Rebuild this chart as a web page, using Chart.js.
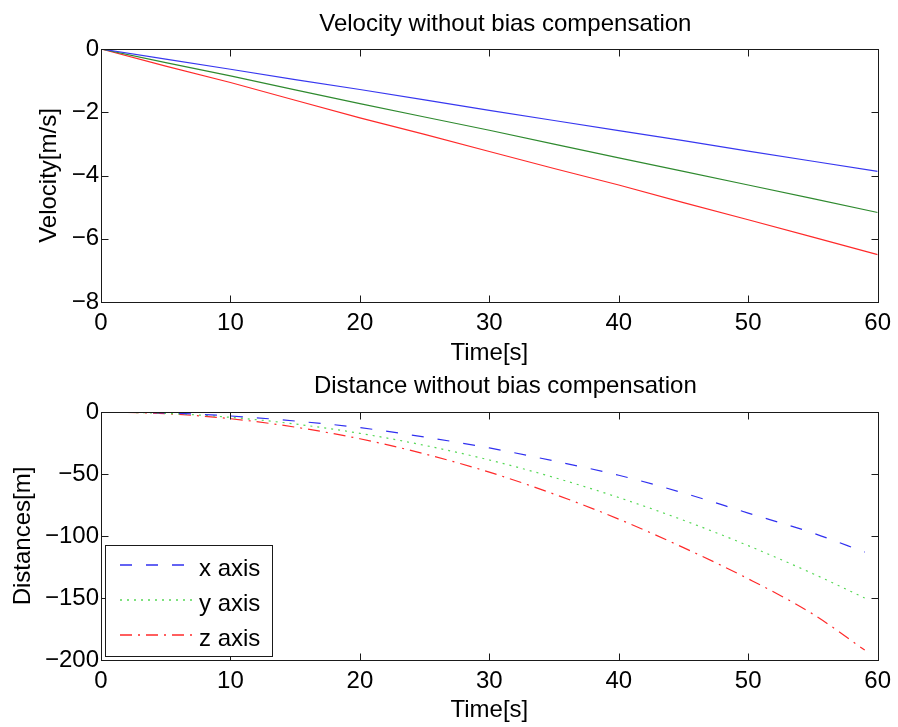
<!DOCTYPE html>
<html>
<head>
<meta charset="utf-8">
<title>Velocity and distance without bias compensation</title>
<script src="https://cdn.jsdelivr.net/npm/chart.js@4.4.1/dist/chart.umd.min.js"></script>
<style>
  body { margin: 0; background: #fff; }
  .panel { position: absolute; left: 0; }
  #top { top: 0; }
  #bottom { top: 365px; }
</style>
</head>
<body>
<div class="panel" id="top"><canvas id="velocityChart" width="898" height="365"></canvas></div>
<div class="panel" id="bottom"><canvas id="distanceChart" width="898" height="362"></canvas></div>
<script>
// velocity
const velTime = [0, 5, 10, 15, 20, 25, 30, 35, 40, 45, 50, 55, 60];
const velX = [0, -0.32, -0.64, -0.97, -1.28, -1.61, -1.94, -2.26, -2.58, -2.90, -3.23, -3.55, -3.87];
const velY = [0, -0.43, -0.85, -1.29, -1.73, -2.15, -2.57, -3.01, -3.44, -3.87, -4.30, -4.73, -5.17];
const velZ = [0, -0.54, -1.06, -1.62, -2.18, -2.70, -3.24, -3.78, -4.30, -4.86, -5.40, -5.95, -6.50];

// distance
const distTime = [0, 5, 10, 15, 20, 25, 30, 35, 40, 45, 50, 55, 59];
const distX = [0, -0.8, -3.2, -7.3, -12.6, -20.2, -29.0, -39.5, -51.0, -65.3, -81.5, -97.6, -113];
const distY = [0, -1.1, -4.3, -9.7, -17.2, -26.9, -38.7, -52.8, -69.0, -87.3, -107.8, -130.4, -150];
const distZ = [0, -1.35, -5.4, -12.2, -21.6, -33.8, -48.5, -66.2, -86.4, -109.4, -134.5, -163.0, -192];

const seriesLabels = ["x axis", "y axis", "z axis"];
const timeTicks = [0, 10, 20, 30, 40, 50, 60];
const velTicks = [0, -2, -4, -6, -8];
const distTicks = [0, -50, -100, -150, -200];

const FONT = '"Liberation Sans", Arial, Helvetica, sans-serif';
Chart.defaults.font.family = FONT;
Chart.defaults.font.size = 24;
Chart.defaults.color = "#000";

const minusSign = v => String(v).replace("-", "\u2212");

// MATLAB style box with inward ticks on all four sides, plus the panel title
const frame = {
  id: "frame",
  afterDatasetsDraw(chart, args, opts) {
    const { ctx, chartArea: a, scales } = chart;
    const L = Math.round(a.left) + 0.5, R = Math.round(a.right) + 0.5;
    const T = Math.round(a.top) + 0.5, B = Math.round(a.bottom) + 0.5;
    ctx.save();
    ctx.strokeStyle = "#1a1a1a";
    ctx.lineWidth = 1;
    ctx.beginPath();
    scales.x.ticks.forEach(t => {
      const px = Math.round(scales.x.getPixelForValue(t.value)) + 0.5;
      ctx.moveTo(px, T); ctx.lineTo(px, T + 7);
      ctx.moveTo(px, B); ctx.lineTo(px, B - 7);
    });
    scales.y.ticks.forEach(t => {
      const py = Math.round(scales.y.getPixelForValue(t.value)) + 0.5;
      ctx.moveTo(L, py); ctx.lineTo(L + 7, py);
      ctx.moveTo(R, py); ctx.lineTo(R - 7, py);
    });
    ctx.stroke();
    ctx.strokeRect(L, T, R - L, B - T);

    ctx.fillStyle = "#000";
    ctx.font = "24px " + FONT;
    ctx.textAlign = "center";
    ctx.textBaseline = "middle";
    ctx.fillText(opts.text, (a.left + a.right) / 2 + 16, a.top - opts.gap);
    ctx.restore();
  }
};

// legend boxed inside the lower left corner of the plot
const boxLegend = {
  id: "boxLegend",
  afterDraw(chart) {
    const { ctx, chartArea: a } = chart;
    const left = Math.round(a.left) + 4, top = Math.round(a.bottom) - 115;
    ctx.save();
    ctx.fillStyle = "#fff";
    ctx.fillRect(left, top, 167, 111);
    ctx.strokeStyle = "#1a1a1a";
    ctx.lineWidth = 1;
    ctx.strokeRect(left + 0.5, top + 0.5, 167, 111);
    ctx.font = "24px " + FONT;
    ctx.textBaseline = "middle";
    chart.data.datasets.forEach((ds, i) => {
      const y = top + 20 + i * 35;
      ctx.strokeStyle = ds.borderColor;
      ctx.lineWidth = 1.4;
      ctx.setLineDash(ds.borderDash || []);
      ctx.beginPath();
      ctx.moveTo(left + 15, y);
      ctx.lineTo(left + 88, y);
      ctx.stroke();
      ctx.setLineDash([]);
      ctx.fillStyle = "#000";
      ctx.fillText(ds.label, left + 94, y + 4);
    });
    ctx.restore();
  }
};

function pairs(xs, ys) {
  return xs.map((x, i) => ({ x, y: ys[i] }));
}

function makeOptions(cfg) {
  return {
    responsive: false,
    animation: false,
    devicePixelRatio: 1,
    layout: { padding: { left: 0, right: 18, top: cfg.top, bottom: 0 } },
    elements: { point: { radius: 0 } },
    plugins: {
      legend: { display: false },
      tooltip: { enabled: false },
      title: { display: false },
      frame: { text: cfg.title, gap: cfg.titleGap }
    },
    scales: {
      x: {
        type: "linear",
        min: 0,
        max: 60,
        afterBuildTicks: s => { s.ticks = timeTicks.map(v => ({ value: v })); },
        afterFit: s => { s.height = cfg.xHeight; },
        grid: { display: false, drawTicks: false },
        border: { display: false },
        ticks: { padding: 7, maxRotation: 0, callback: minusSign },
        title: {
          display: true,
          text: "Time[s]",
          font: { size: 24, lineHeight: 1.0 },
          padding: { top: 0, bottom: cfg.xTitlePad }
        }
      },
      y: {
        min: cfg.yTicks[cfg.yTicks.length - 1],
        max: cfg.yTicks[0],
        afterBuildTicks: s => { s.ticks = cfg.yTicks.map(v => ({ value: v })); },
        afterFit: s => { s.width = 101; },
        grid: { display: false, drawTicks: false },
        border: { display: false },
        ticks: { padding: 2, callback: minusSign },
        title: {
          display: true,
          text: cfg.yTitle,
          font: { size: 24, lineHeight: 1.0 },
          padding: { top: cfg.yTitlePad, bottom: 0 }
        }
      }
    }
  };
}

new Chart(document.getElementById("velocityChart"), {
  type: "line",
  data: {
    datasets: [
      { label: seriesLabels[0], data: pairs(velTime, velX), borderColor: "#3838f0", borderWidth: 1.2 },
      { label: seriesLabels[1], data: pairs(velTime, velY), borderColor: "#2f8a2f", borderWidth: 1.2 },
      { label: seriesLabels[2], data: pairs(velTime, velZ), borderColor: "#ff2a2a", borderWidth: 1.2 }
    ]
  },
  options: makeOptions({
    title: "Velocity without bias compensation",
    top: 49,
    titleGap: 25,
    xHeight: 63,
    xTitlePad: 0,
    yTicks: velTicks,
    yTitle: "Velocity[m/s]",
    yTitlePad: 37
  }),
  plugins: [frame]
});

new Chart(document.getElementById("distanceChart"), {
  type: "line",
  data: {
    datasets: [
      { label: seriesLabels[0], data: pairs(distTime, distX), borderColor: "#3030f0", borderWidth: 1.2, borderDash: [12, 14], cubicInterpolationMode: "monotone" },
      { label: seriesLabels[1], data: pairs(distTime, distY), borderColor: "#55d855", borderWidth: 1.2, borderDash: [2, 5], cubicInterpolationMode: "monotone" },
      { label: seriesLabels[2], data: pairs(distTime, distZ), borderColor: "#ff2a2a", borderWidth: 1.2, borderDash: [12, 6, 2, 6], cubicInterpolationMode: "monotone" }
    ]
  },
  options: makeOptions({
    title: "Distance without bias compensation",
    top: 47,
    titleGap: 26,
    xHeight: 67,
    xTitlePad: 5,
    yTicks: distTicks,
    yTitle: "Distances[m]",
    yTitlePad: 11
  }),
  plugins: [frame, boxLegend]
});
</script>
</body>
</html>
